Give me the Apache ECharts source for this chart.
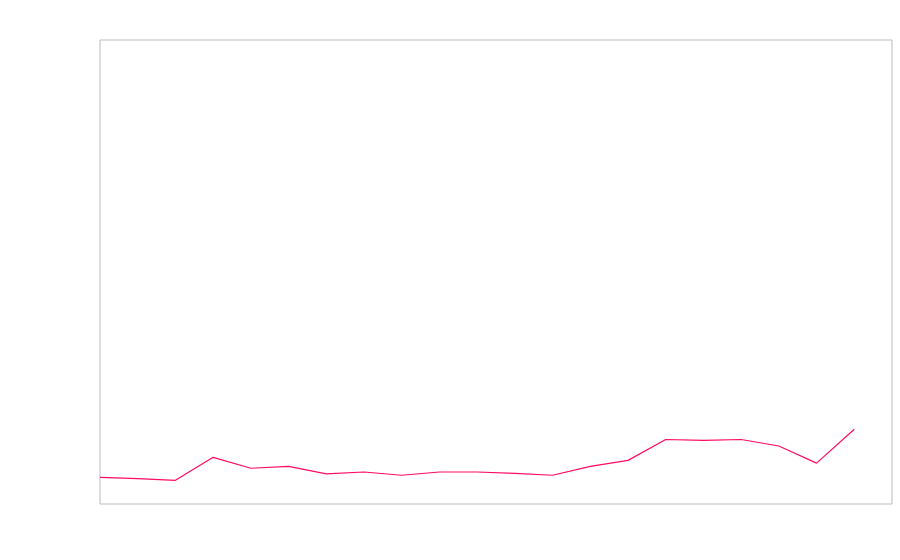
<!DOCTYPE html>
<html>
<head>
<meta charset="utf-8">
<title>Line</title>
<script src="https://cdn.jsdelivr.net/npm/echarts@6/dist/echarts.min.js"></script>
<style>
html, body { margin: 0; padding: 0; background: #fff; }
#main { width: 900px; height: 560px; }
</style>
</head>
<body>
<div id="main"></div>
<script>
// x轴类目（最后一个留空）
const categories = ['1','2','3','4','5','6','7','8','9','10','11','12','13','14','15','16','17','18','19','20','21','22']
// 数值
const values = [5.75, 5.45, 5.1, 10.06, 7.7, 8.1, 6.5, 6.9, 6.2, 6.9, 6.9, 6.6, 6.2, 8.1, 9.4, 13.9, 13.7, 13.9, 12.5, 8.8, 16.1, null]

const myChart = echarts.init(document.getElementById('main'))

const option = {
    animation: false,
    grid: {
        show: true,
        left: 100,
        top: 40,
        right: 8,
        bottom: 56,
        borderColor: '#bbb',
        borderWidth: 1
    },
    xAxis: {
        type: 'category',
        boundaryGap: false,
        data: categories,
        show: false
    },
    yAxis: {
        type: 'value',
        min: 0,
        max: 100,
        show: false
    },
    series: [
        {
            type: 'line',
            data: values,
            symbol: 'none',
            lineStyle: {
                color: '#ff0a64',
                width: 1.2
            }
        }
    ]
}

myChart.setOption(option)
</script>
</body>
</html>
